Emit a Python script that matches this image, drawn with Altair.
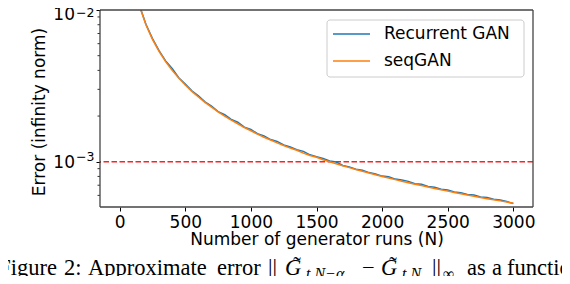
import altair as alt
import pandas as pd

# ---- data ----
runs = [100, 150, 200, 250, 300, 350, 400, 450, 500, 550, 600, 650, 700, 750, 800, 850, 900, 950,
        1000, 1050, 1100, 1150, 1200, 1250, 1300, 1350, 1400, 1450, 1500, 1550, 1600, 1650, 1700,
        1750, 1800, 1850, 1900, 1950, 2000, 2050, 2100, 2150, 2200, 2250, 2300, 2350, 2400, 2450,
        2500, 2550, 2600, 2650, 2700, 2750, 2800, 2850, 2900, 2950, 3000]
recurrent_gan = [0.0161, 0.01075, 0.00805, 0.00648, 0.00540, 0.00462, 0.00412, 0.00358, 0.00325,
                 0.00293, 0.00272, 0.00248, 0.00233, 0.00214, 0.00204, 0.00190, 0.00182, 0.00169,
                 0.00163, 0.00153, 0.00148, 0.00140, 0.00136, 0.00129, 0.00125, 0.00120, 0.00117,
                 0.00111, 0.00108, 0.00105, 0.00101, 0.000995, 0.000945, 0.000925, 0.000893,
                 0.000878, 0.000848, 0.000830, 0.000804, 0.000795, 0.000768, 0.000757, 0.000742,
                 0.000716, 0.000710, 0.000686, 0.000680, 0.000658, 0.000652, 0.000631, 0.000624,
                 0.000609, 0.000604, 0.000586, 0.000580, 0.000565, 0.000560, 0.000546, 0.000530]
seq_gan = [0.0160, 0.01067, 0.00800, 0.00640, 0.00533, 0.00457, 0.00400, 0.00356, 0.00320,
           0.00291, 0.00267, 0.00246, 0.00229, 0.00213, 0.00200, 0.00188, 0.00178, 0.00168,
           0.00160, 0.00152, 0.00145, 0.00139, 0.00133, 0.00128, 0.00123, 0.00119, 0.00114,
           0.00110, 0.00107, 0.00103, 0.00100, 0.000970, 0.000941, 0.000914, 0.000889,
           0.000865, 0.000842, 0.000821, 0.000800, 0.000780, 0.000762, 0.000744, 0.000727,
           0.000711, 0.000696, 0.000681, 0.000667, 0.000653, 0.000640, 0.000627, 0.000615,
           0.000604, 0.000593, 0.000582, 0.000571, 0.000561, 0.000552, 0.000542, 0.000533]
series_names = ["Recurrent GAN", "seqGAN"]
series_colors = ["#1f77b4", "#ff7f0e"]
threshold = [0.001]
x_ticks = [0, 500, 1000, 1500, 2000, 2500, 3000]
y_major = [0.01, 0.001]
y_major_exp = ["\u22122", "\u22123"]
y_minor = [0.009, 0.008, 0.007, 0.006, 0.005, 0.004, 0.003, 0.002,
           0.0009, 0.0008, 0.0007, 0.0006]

X_DOMAIN = [-150, 3150]
Y_DOMAIN = [0.000503, 0.01]
FONT = "DejaVu Sans"
SERIF = "Liberation Serif"
W, H = 433, 197

xs = alt.Scale(domain=X_DOMAIN, nice=False, zero=False)
ys = alt.Scale(type="log", domain=Y_DOMAIN, nice=False)

x_enc = alt.X("N:Q", scale=xs,
              axis=alt.Axis(values=x_ticks, format="d", title="Number of generator runs (N)",
                            grid=False, domain=False, tickSize=4, tickColor="black", tickWidth=1,
                            labelPadding=3, labelFontSize=17, labelFont=FONT, labelColor="black",
                            titleFont=FONT, titleFontSize=17, titleFontWeight="normal",
                            titleColor="black", titlePadding=1, labelFlush=False))
y_axis = alt.Axis(values=y_major, labels=False, title=None, grid=False, domain=False,
                  tickSize=4, tickColor="black", tickWidth=1)

df_blue = pd.DataFrame({"N": runs, "err": recurrent_gan})
df_orange = pd.DataFrame({"N": runs, "err": seq_gan})

rule_thr = alt.Chart(pd.DataFrame({"err": threshold})).mark_rule(
    color="#ff2020", strokeDash=[5.5, 2.5], strokeWidth=1.5
).encode(y=alt.Y("err:Q", scale=ys, axis=y_axis))

line_blue = alt.Chart(df_blue).mark_line(color=series_colors[0], strokeWidth=1.5, clip=True).encode(
    x=x_enc, y=alt.Y("err:Q", scale=ys, axis=y_axis))
line_orange = alt.Chart(df_orange).mark_line(color=series_colors[1], strokeWidth=1.5, clip=True).encode(
    x=x_enc, y=alt.Y("err:Q", scale=ys, axis=y_axis))

minor = alt.Chart(pd.DataFrame({"err": y_minor})).mark_rule(color="black", strokeWidth=0.8).encode(
    y=alt.Y("err:Q", scale=ys, axis=y_axis), x=alt.value(-2.5), x2=alt.value(0))

# plot frame (four spines)
frame_layers = []
for (fx, fx2, fy, fy2) in [(0, W, 0, 0), (0, W, H, H), (0, 0, 0, H), (W, W, 0, H)]:
    frame_layers.append(alt.Chart(pd.DataFrame({"a": [0]})).mark_rule(
        color="#444444", strokeWidth=1.3
    ).encode(x=alt.value(fx), x2=alt.value(fx2), y=alt.value(fy), y2=alt.value(fy2)))

df_lab = pd.DataFrame({"err": y_major, "exp": y_major_exp, "base": ["10", "10"]})
lab_layers = []
for i in range(len(y_major)):
    # the top label is nudged down a little so it stays inside the page
    dy_base = 5 if i == 0 else 1
    dy_exp = 7 if i == 0 else -1
    sub = df_lab.iloc[[i]]
    lab_layers.append(alt.Chart(sub).mark_text(
        align="right", baseline="middle", dy=dy_base, fontSize=17, font=FONT, color="black"
    ).encode(y=alt.Y("err:Q", scale=ys, axis=y_axis), x=alt.value(-25), text="base:N"))
    lab_layers.append(alt.Chart(sub).mark_text(
        align="left", baseline="alphabetic", dy=dy_exp, fontSize=12.5, font=FONT, color="black"
    ).encode(y=alt.Y("err:Q", scale=ys, axis=y_axis), x=alt.value(-24), text="exp:N"))

y_title = alt.Chart(pd.DataFrame({"t": ["Error (infinity norm)"]})).mark_text(
    angle=270, align="center", baseline="middle", fontSize=17, font=FONT, color="black"
).encode(x=alt.value(-60), y=alt.value(102), text="t:N")

# legend (drawn by hand, matplotlib style)
legend_box = alt.Chart(pd.DataFrame({"a": [0]})).mark_rect(
    fill="white", fillOpacity=0.8, stroke="#cccccc", strokeWidth=1, cornerRadius=3
).encode(x=alt.value(227), x2=alt.value(424), y=alt.value(10), y2=alt.value(67))
legend_layers = []
for i, (name, col) in enumerate(zip(series_names, series_colors)):
    yy = 24 + 27 * i
    legend_layers.append(alt.Chart(pd.DataFrame({"a": [0]})).mark_rule(color=col, strokeWidth=1.5).encode(
        x=alt.value(233), x2=alt.value(270), y=alt.value(yy)))
    legend_layers.append(alt.Chart(pd.DataFrame({"t": [name]})).mark_text(
        align="left", baseline="middle", fontSize=17, font=FONT, color="black"
    ).encode(x=alt.value(284), y=alt.value(yy), text="t:N"))

# caption below the figure (cut off at both sides as in the reference)
caption_parts = [
    ("Figure", -43, 265, 22.5, "normal", "right"),
    ("2:", -36, 265, 22.5, "normal", "left"),
    ("Approximate", -12, 265, 22.5, "normal", "left"),
    ("error", 117, 265, 22.5, "normal", "left"),
    ("||", 168, 265, 22.5, "normal", "left"),
    ("G", 185, 265, 22.5, "italic", "left"),
    ("\u02dc", 197, 263, 22.5, "normal", "center"),
    ("t,N\u2212\u03b1", 206, 269, 16, "italic", "left"),
    ("\u2212", 262, 265, 22.5, "normal", "left"),
    ("G", 281, 265, 22.5, "italic", "left"),
    ("\u02dc", 293, 263, 22.5, "normal", "center"),
    ("t,N", 302, 269, 16, "italic", "left"),
    ("||", 332, 265, 22.5, "normal", "left"),
    ("\u221e", 343, 269, 16, "normal", "left"),
    ("as", 367, 265, 22.5, "normal", "left"),
    ("a", 392, 265, 22.5, "normal", "left"),
    ("function", 407, 265, 22.5, "normal", "left"),
]
caption_layers = []
for txt, cx, cy, fs, st, al in caption_parts:
    caption_layers.append(alt.Chart(pd.DataFrame({"t": [txt]})).mark_text(
        align=al, baseline="alphabetic", fontSize=fs, font=SERIF, fontStyle=st, color="black"
    ).encode(x=alt.value(cx), y=alt.value(cy), text="t:N"))

chart = alt.layer(
    rule_thr, line_blue, line_orange, minor, *frame_layers, *lab_layers, y_title, legend_box,
    *legend_layers, *caption_layers
).properties(
    width=W, height=H,
    background="white",
    autosize=alt.AutoSizeParams(type="none"),
    padding={"left": 92, "top": 2, "right": 29, "bottom": 69},
).configure_view(stroke=None)

chart.save("out.html", embed_options={"renderer": "svg", "actions": False})
